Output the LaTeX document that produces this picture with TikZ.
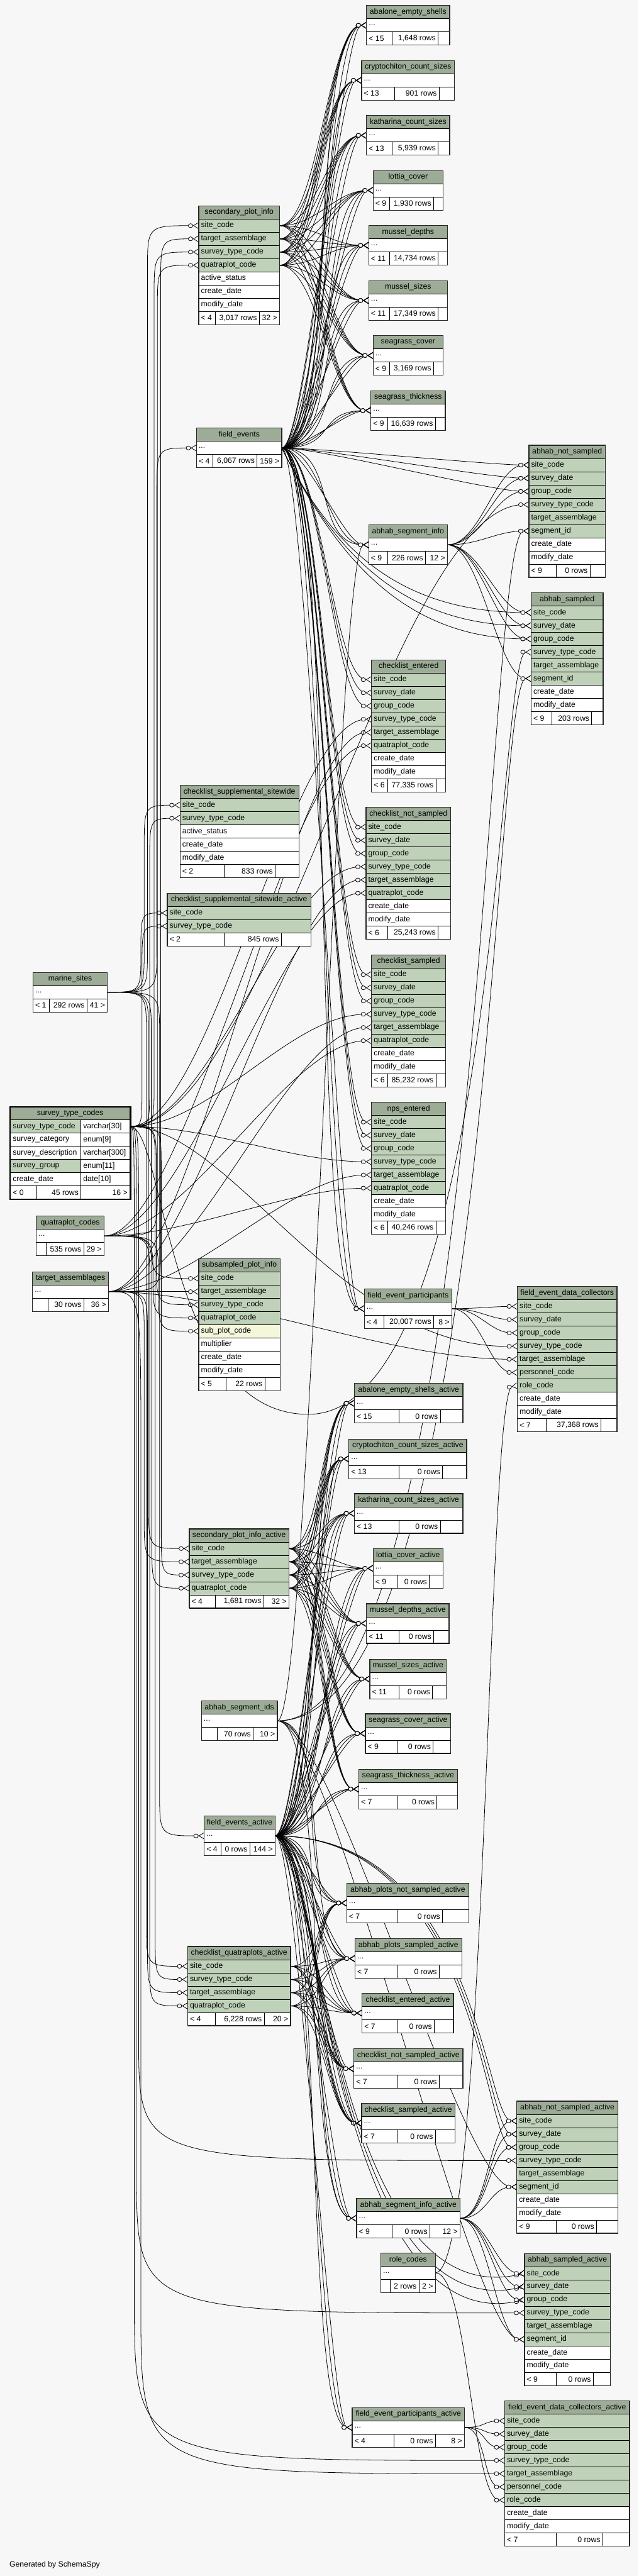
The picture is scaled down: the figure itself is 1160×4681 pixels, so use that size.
\documentclass[tikz,border=0pt]{standalone}
\usepackage{fontspec}
\setmainfont{Liberation Sans}
\usepackage{xcolor}
\usepackage{tikz}
\usetikzlibrary{arrows.meta, calc}
\definecolor{canvasgray}{RGB}{247,247,247}
\definecolor{headgreen}{RGB}{157,172,151}
\definecolor{keygreen}{RGB}{191,209,185}
\definecolor{idxyellow}{RGB}{244,247,218}

\pgfdeclarelayer{canvas}
\pgfdeclarelayer{edges}
\pgfsetlayers{canvas,edges,main}

\newcommand{\moredots}{...}
% one table: name, left, top, width, title, rows as fill/text
\newcommand{\ertable}[6]{%
  \node[hdr, minimum width=#4pt] (#1) at (#2,#3) {};
  \node[lbl, anchor=center] at (#1.center) {#5};
  \foreach \rowfill/\rowtext [count=\ri] in {#6} {
    \node[cell, fill=\rowfill, minimum width=#4pt] (#1-\ri) at (#2,#3+24*\ri) {};
    \node[lbl] at ([xshift=4pt]#1-\ri.west) {\rowtext};
    \xdef\ernrows{\ri}
  }%
  \xdef\erx{#2}\xdef\ery{#3}\xdef\erw{#4}\xdef\ername{#1}%
}
% footer of the last table: two dividers, left, middle, right text
\newcommand{\erfoot}[5]{%
  \pgfmathsetmacro\fy{\ery+24*(\ernrows+1)}%
  \node[cell, fill=white, minimum width=\erw pt] (\ername-f) at (\erx,\fy) {};
  \draw[line width=0.8pt] (#1,\fy) -- ++(0,24) (#2,\fy) -- ++(0,24);
  \node[lbl] at ([xshift=4pt]\ername-f.west) {#3};
  \node[lbl, anchor=east] at (#2-4,\fy+12) {#4};
  \node[lbl, anchor=east] at ([xshift=-4pt]\ername-f.east) {#5};
  \draw[tblframe] (\ername.north west) rectangle (\ername-f.south east);
}
% foreign keys: direct, with own controls, down the left spine
\newcommand{\fkd}[3][70]{\draw[fk] (#2.east) .. controls +(#1,0) and +(-#1,0) .. (#3.west)}
\newcommand{\fkc}[4]{\draw[fk] (#1.east) .. controls #3 and #4 .. (#2.west)}
\newcommand{\fks}[4][80]{\draw[fk] let \p1=(#3.east), \p2=(#4.west), \p3=(#2,0),
    \n1={max(-#1,min(#1,(\y2-\y1)/2))} in
    (\p1) .. controls (\x3,\y1) .. (\x3,{\y1+(\n1)}) -- (\x3,{\y2-(\n1)}) .. controls (\x3,\y2) .. (\p2)}

\begin{document}
\catcode`\_=12
\begin{tikzpicture}[x=1pt, y=-1pt,
  cell/.style={draw=black, line width=0.8pt, minimum height=24pt, inner sep=0pt, outer sep=0pt, anchor=north west},
  hdr/.style={cell, fill=headgreen},
  lbl/.style={font=\fontsize{14}{16}\selectfont, inner sep=0pt, anchor=west},
  tblframe/.style={draw=black!85, line width=1.4pt},
  fk/.style={line width=0.9pt, -{Circle[fill=canvasgray, length=9pt, width=8pt] Straight Barb[reversed, length=9pt, width=11pt]}}]

\useasboundingbox (0,0) rectangle (1160,4681);
\begin{pgfonlayer}{canvas}
\fill[canvasgray] (0,0) rectangle (1160,4681);
\end{pgfonlayer}

% Count and cover tables
\ertable{aes}{666}{10}{151}{abalone_empty_shells}{white/\moredots}
\erfoot{712}{796}{< 15}{1,648 rows}{}
\ertable{ccs}{657}{110}{169}{cryptochiton_count_sizes}{white/\moredots}
\erfoot{717}{798}{< 13}{901 rows}{}
\ertable{kcs}{666}{210}{151}{katharina_count_sizes}{white/\moredots}
\erfoot{712}{796}{< 13}{5,939 rows}{}
\ertable{lc}{678}{310}{127}{lottia_cover}{white/\moredots}
\erfoot{708}{788}{< 9}{1,930 rows}{}
\ertable{md}{670}{410}{143}{mussel_depths}{white/\moredots}
\erfoot{708}{796}{< 11}{14,734 rows}{}
\ertable{ms}{670}{510}{143}{mussel_sizes}{white/\moredots}
\erfoot{708}{796}{< 11}{17,349 rows}{}
\ertable{sc}{678}{610}{127}{seagrass_cover}{white/\moredots}
\erfoot{708}{788}{< 9}{3,169 rows}{}
\ertable{st}{674}{710}{135}{seagrass_thickness}{white/\moredots}
\erfoot{704}{791}{< 9}{16,639 rows}{}

% Plot info and field events
\ertable{spi}{361}{374}{147}{secondary_plot_info}{keygreen/site_code, keygreen/target_assemblage, keygreen/survey_type_code, keygreen/quatraplot_code, white/active_status, white/create_date, white/modify_date}
\erfoot{391}{471}{< 4}{3,017 rows}{32 >}
\ertable{fe}{357}{778}{155}{field_events}{white/\moredots}
\erfoot{387}{467}{< 4}{6,067 rows}{159 >}

% Abhab tables
\ertable{ans}{961}{809}{139}{abhab_not_sampled}{keygreen/site_code, keygreen/survey_date, keygreen/group_code, keygreen/survey_type_code, keygreen/target_assemblage, keygreen/segment_id, white/create_date, white/modify_date}
\erfoot{1011}{1072}{< 9}{0 rows}{}
\ertable{asi}{670}{954}{143}{abhab_segment_info}{white/\moredots}
\erfoot{704}{773}{< 9}{226 rows}{12 >}
\ertable{as}{965}{1077}{131}{abhab_sampled}{keygreen/site_code, keygreen/survey_date, keygreen/group_code, keygreen/survey_type_code, keygreen/target_assemblage, keygreen/segment_id, white/create_date, white/modify_date}
\erfoot{1003}{1075}{< 9}{203 rows}{}

% Checklists
\ertable{ce}{675}{1199}{135}{checklist_entered}{keygreen/site_code, keygreen/survey_date, keygreen/group_code, keygreen/survey_type_code, keygreen/target_assemblage, keygreen/quatraplot_code, white/create_date, white/modify_date}
\erfoot{704}{792}{< 6}{77,335 rows}{}
\ertable{cns}{665}{1467}{154}{checklist_not_sampled}{keygreen/site_code, keygreen/survey_date, keygreen/group_code, keygreen/survey_type_code, keygreen/target_assemblage, keygreen/quatraplot_code, white/create_date, white/modify_date}
\erfoot{704}{796}{< 6}{25,243 rows}{}
\ertable{csd}{675}{1735}{135}{checklist_sampled}{keygreen/site_code, keygreen/survey_date, keygreen/group_code, keygreen/survey_type_code, keygreen/target_assemblage, keygreen/quatraplot_code, white/create_date, white/modify_date}
\erfoot{704}{792}{< 6}{85,232 rows}{}
\ertable{npe}{675}{2003}{135}{nps_entered}{keygreen/site_code, keygreen/survey_date, keygreen/group_code, keygreen/survey_type_code, keygreen/target_assemblage, keygreen/quatraplot_code, white/create_date, white/modify_date}
\erfoot{704}{792}{< 6}{40,246 rows}{}
\ertable{css}{327}{1427}{216}{checklist_supplemental_sitewide}{keygreen/site_code, keygreen/survey_type_code, white/active_status, white/create_date, white/modify_date}
\erfoot{407}{500}{< 2}{833 rows}{}
\ertable{cssa}{304}{1623}{261}{checklist_supplemental_sitewide_active}{keygreen/site_code, keygreen/survey_type_code}
\erfoot{407}{511}{< 2}{845 rows}{}

% Code tables
\ertable{mas}{60}{1767}{135}{marine_sites}{white/\moredots}
\erfoot{90}{158}{< 1}{292 rows}{41 >}

\node[hdr, minimum width=217pt] (stc) at (19,2011) {};
\node[lbl, anchor=center] at (stc.center) {survey_type_codes};
\foreach \rowfill/\nm/\ty [count=\ri] in {keygreen/survey_type_code/varchar[30], white/survey_category/enum[9], white/survey_description/varchar[300], keygreen/survey_group/enum[11], white/create_date/date[10]} {
  \node[cell, fill=\rowfill, minimum width=128pt] (stc-n\ri) at (19,2011+24*\ri) {};
  \node[cell, fill=white, minimum width=89pt] (stc-\ri) at (147,2011+24*\ri) {};
  \node[lbl] at ([xshift=4pt]stc-n\ri.west) {\nm};
  \node[lbl] at ([xshift=4pt]stc-\ri.west) {\ty};
}
\node[cell, fill=white, minimum width=217pt] (stc-f) at (19,2155) {};
\draw[line width=0.8pt] (67,2155) -- ++(0,24) (147,2155) -- ++(0,24);
\node[lbl] at ([xshift=4pt]stc-f.west) {< 0};
\node[lbl, anchor=east] at (143,2167) {45 rows};
\node[lbl, anchor=east] at ([xshift=-4pt]stc-f.east) {16 >};
\draw[line width=2.6pt] (18,2011) rectangle (237,2179);

\ertable{qc}{66}{2210}{123}{quatraplot_codes}{white/\moredots}
\erfoot{84}{152}{}{535 rows}{29 >}
\ertable{ta}{59}{2311}{138}{target_assemblages}{white/\moredots}
\erfoot{87}{152}{}{30 rows}{36 >}
\ertable{sub}{361}{2287}{148}{subsampled_plot_info}{keygreen/site_code, keygreen/target_assemblage, keygreen/survey_type_code, keygreen/quatraplot_code, idxyellow/sub_plot_code, white/multiplier, white/create_date, white/modify_date}
\erfoot{411}{481}{< 5}{22 rows}{}

% Participants and collectors
\ertable{fep}{662}{2342}{159}{field_event_participants}{white/\moredots}
\erfoot{697}{788}{< 4}{20,007 rows}{8 >}
\ertable{fedc}{940}{2338}{181}{field_event_data_collectors}{keygreen/site_code, keygreen/survey_date, keygreen/group_code, keygreen/survey_type_code, keygreen/target_assemblage, keygreen/personnel_code, keygreen/role_code, white/create_date, white/modify_date}
\erfoot{992}{1092}{< 7}{37,368 rows}{}

% Active tables
\ertable{aesa}{644}{2514}{197}{abalone_empty_shells_active}{white/\moredots}
\erfoot{725}{800}{< 15}{0 rows}{}
\ertable{ccsa}{634}{2615}{214}{cryptochiton_count_sizes_active}{white/\moredots}
\erfoot{725}{804}{< 13}{0 rows}{}
\ertable{kcsa}{644}{2714}{197}{katharina_count_sizes_active}{white/\moredots}
\erfoot{725}{800}{< 13}{0 rows}{}
\ertable{lca}{678}{2814}{127}{lottia_cover_active}{white/\moredots}
\erfoot{721}{780}{< 9}{0 rows}{}
\ertable{mda}{666}{2914}{150}{mussel_depths_active}{white/\moredots}
\erfoot{725}{788}{< 11}{0 rows}{}
\ertable{msa}{672}{3015}{139}{mussel_sizes_active}{white/\moredots}
\erfoot{725}{786}{< 11}{0 rows}{}
\ertable{sca}{664}{3114}{155}{seagrass_cover_active}{white/\moredots}
\erfoot{721}{787}{< 9}{0 rows}{}
\ertable{sta}{652}{3215}{179}{seagrass_thickness_active}{white/\moredots}
\erfoot{721}{794}{< 7}{0 rows}{}
\ertable{spia}{344}{2778}{181}{secondary_plot_info_active}{keygreen/site_code, keygreen/target_assemblage, keygreen/survey_type_code, keygreen/quatraplot_code}
\erfoot{391}{479}{< 4}{1,681 rows}{32 >}
\ertable{asids}{366}{3091}{138}{abhab_segment_ids}{white/\moredots}
\erfoot{395}{460}{}{70 rows}{10 >}
\ertable{fea}{371}{3300}{129}{field_events_active}{white/\moredots}
\erfoot{401}{454}{< 4}{0 rows}{144 >}
\ertable{apns}{630}{3422}{222}{abhab_plots_not_sampled_active}{white/\moredots}
\erfoot{721}{804}{< 7}{0 rows}{}
\ertable{apsa}{645}{3523}{194}{abhab_plots_sampled_active}{white/\moredots}
\erfoot{721}{798}{< 7}{0 rows}{}
\ertable{cqa}{341}{3537}{187}{checklist_quatraplots_active}{keygreen/site_code, keygreen/survey_type_code, keygreen/target_assemblage, keygreen/quatraplot_code}
\erfoot{391}{480}{< 4}{6,228 rows}{20 >}
\ertable{cea}{658}{3622}{166}{checklist_entered_active}{white/\moredots}
\erfoot{721}{789}{< 7}{0 rows}{}
\ertable{cnsa}{643}{3723}{198}{checklist_not_sampled_active}{white/\moredots}
\erfoot{721}{798}{< 7}{0 rows}{}
\ertable{csa}{657}{3822}{170}{checklist_sampled_active}{white/\moredots}
\erfoot{721}{791}{< 7}{0 rows}{}
\ertable{ansa}{939}{3818}{184}{abhab_not_sampled_active}{keygreen/site_code, keygreen/survey_date, keygreen/group_code, keygreen/survey_type_code, keygreen/target_assemblage, keygreen/segment_id, white/create_date, white/modify_date}
\erfoot{1011}{1084}{< 9}{0 rows}{}
\ertable{asia}{648}{3995}{188}{abhab_segment_info_active}{white/\moredots}
\erfoot{712}{781}{< 9}{0 rows}{12 >}
\ertable{rc}{692}{4094}{99}{role_codes}{white/\moredots}
\erfoot{709}{761}{}{2 rows}{2 >}
\ertable{asa}{953}{4095}{156}{abhab_sampled_active}{keygreen/site_code, keygreen/survey_date, keygreen/group_code, keygreen/survey_type_code, keygreen/target_assemblage, keygreen/segment_id, white/create_date, white/modify_date}
\erfoot{1011}{1078}{< 9}{0 rows}{}
\ertable{fepa}{640}{4375}{204}{field_event_participants_active}{white/\moredots}
\erfoot{716}{791}{< 4}{0 rows}{8 >}
\ertable{fedca}{917}{4363}{227}{field_event_data_collectors_active}{keygreen/site_code, keygreen/survey_date, keygreen/group_code, keygreen/survey_type_code, keygreen/target_assemblage, keygreen/personnel_code, keygreen/role_code, white/create_date, white/modify_date}
\erfoot{1011}{1095}{< 7}{0 rows}{}

\node[lbl] (credit) at (17,4661) {Generated by SchemaSpy};

\begin{pgfonlayer}{edges}
% Code tables down the left side
\foreach \ch/\spx in {spi-1/268, css-1/262, cssa-1/256, sub-1/275, spia-1/270, cqa-1/266, fe-1/285, fea-1/290}
  {\fks{\spx}{mas-1}{\ch};}
\foreach \ch/\spx in {spi-3/280, css-2/272, cssa-2/258, sub-3/284, spia-3/293, cqa-2/282}
  {\fks{\spx}{stc-1}{\ch};}
\foreach \ch/\spx in {spi-4/286, sub-4/278, sub-5/288, spia-4/276, cqa-4/272}
  {\fks{\spx}{qc-1}{\ch};}
\foreach \ch/\spx in {spi-2/292, sub-2/296, spia-2/262, cqa-3/268}
  {\fks{\spx}{ta-1}{\ch};}

% Code tables across to the checklists
\foreach \ch in {ce-4, cns-4, csd-4, npe-4} {\fkd[150]{stc-1}{\ch};}
\foreach \ch in {ce-6, cns-6, csd-6, npe-6} {\fkd[150]{qc-1}{\ch};}
\foreach \ch in {ce-5, cns-5, csd-5, npe-5} {\fkd[150]{ta-1}{\ch};}
\fkd[250]{stc-1}{ans-4};
\draw[fk] (stc-1.east) .. controls (300,2047) and (300,2570) .. (560,2570) .. controls (905,2570) and (905,1185) .. (as-4.west);
\fkc{stc-1}{fedc-4}{(420,2047)}{(620,2455)};
\fkc{ta-1}{fedc-5}{(420,2347)}{(700,2470)};
\fks[220]{252}{stc-1}{ansa-4};
\fks[260]{248}{stc-1}{asa-4};
\fks[300]{244}{stc-1}{fedca-4};
\fks[300]{256}{ta-1}{fedca-5};

% Field events and plot info to the survey tables
\foreach \tb in {aes,ccs,kcs,lc,md,ms,sc,st} {
  \foreach \bendx in {45,75,105} {\fkd[\bendx]{fe-1}{\tb-1};}
  \foreach \rw in {1,...,4} {\fkd{spi-\rw}{\tb-1};}
}
\foreach \bendx in {45,75,105} {\fkd[\bendx]{fe-1}{asi-1}; \fkd[\bendx]{fe-1}{fep-1};}
\foreach \rw in {1,2,3} {\fkd{fe-1}{ans-\rw};}
\foreach \rw in {1,2,3} {\fkc{fe-1}{as-\rw}{(600,990)}{(720,1089+24*\rw)};}
\foreach \tb in {ce,cns,csd,npe} {\foreach \rw in {1,2,3} {\fkd{fe-1}{\tb-\rw};}}
\foreach \rw in {1,2,3,6} {\fkd[60]{asi-1}{ans-\rw}; \fkd[60]{asi-1}{as-\rw};}
\foreach \rw in {1,2,3,6} {\fkd[50]{fep-1}{fedc-\rw};}
\fkc{rc-1}{fedc-7}{(885,4130)}{(885,2527)};
\fkd[60]{rc-1}{fedca-7};

% Segment ids
\fkd[60]{asids-1}{asi-1};
\fkc{asids-1}{ans-6}{(880,3127)}{(880,965)};
\fkc{asids-1}{as-6}{(895,3127)}{(895,1233)};
\foreach \ch in {asia-1, ansa-6, asa-6, apns-1, apsa-1} {\fkd[100]{asids-1}{\ch};}

% Active tables
\foreach \tb in {aesa,ccsa,kcsa,lca,mda,msa,sca,sta} {
  \foreach \bendx in {40,65,90} {\fkd[\bendx]{fea-1}{\tb-1};}
  \foreach \rw in {1,...,4} {\fkd[60]{spia-\rw}{\tb-1};}
}
\foreach \tb in {apns,apsa,cea,cnsa,csa} {
  \foreach \bendx in {40,65,90} {\fkd[\bendx]{fea-1}{\tb-1};}
  \foreach \rw in {1,...,4} {\fkd[60]{cqa-\rw}{\tb-1};}
}
\foreach \bendx in {40,65,90} {\fkd[\bendx]{fea-1}{asia-1}; \fkd[\bendx]{fea-1}{fepa-1};}
\foreach \rw in {1,2,3} {\fkc{fea-1}{ansa-\rw}{(870,3336)}{(880,3830+24*\rw)};}
\foreach \rw in {1,2,3} {\fkc{fea-1}{asa-\rw}{(580,3336)}{(600,4187+24*\rw)};}
\foreach \rw in {1,2,3,6} {\fkd[50]{asia-1}{ansa-\rw}; \fkd[50]{asia-1}{asa-\rw};}
\foreach \rw in {1,2,3,6} {\fkd[40]{fepa-1}{fedca-\rw};}
\end{pgfonlayer}

\end{tikzpicture}
\end{document}
